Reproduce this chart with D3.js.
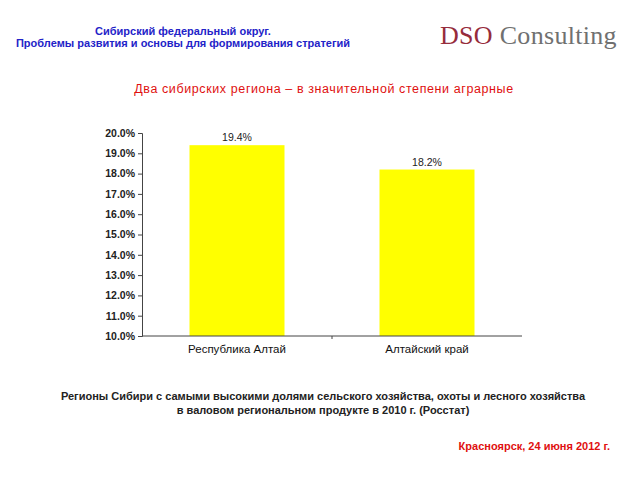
<!DOCTYPE html>
<html>
<head>
<meta charset="utf-8">
<script src="https://cdn.jsdelivr.net/npm/d3@7"></script>
<style>
  body { margin: 0; background: #fff; }
  svg { display: block; font-family: "Liberation Sans", Arial, sans-serif; }
</style>
</head>
<body>
<svg width="640" height="480"></svg>
<script>
var regions = ["Республика Алтай", "Алтайский край"];
var shares = [19.4, 18.2];
var yTicks = [10, 11, 12, 13, 14, 15, 16, 17, 18, 19, 20];

var svg = d3.select("svg");

// header
var head = svg.append("g").attr("fill", "#2323c8").attr("font-size", "11px").attr("font-weight", "bold").attr("text-anchor", "middle");
head.append("text").attr("x", 183).attr("y", 35).text("Сибирский федеральный округ.");
head.append("text").attr("x", 183).attr("y", 47).text("Проблемы развития и основы для формирования стратегий");

var logo = svg.append("text").attr("x", 440).attr("y", 44)
    .attr("font-family", "'Liberation Serif', 'DejaVu Serif', serif").attr("font-size", "26px")
    .attr("letter-spacing", "0.3px");
logo.append("tspan").attr("fill", "#962c3c").text("DSO ");
logo.append("tspan").attr("fill", "#707070").text("Consulting");

svg.append("text").attr("x", 324).attr("y", 93).attr("text-anchor", "middle")
    .attr("fill", "#e01010").attr("font-size", "12.5px").attr("letter-spacing", "0.6px")
    .text("Два сибирских региона – в значительной степени аграрные");

// chart
var x = d3.scaleBand().domain(regions).range([142, 522]).paddingInner(0.5).paddingOuter(0.25);
var y = d3.scaleLinear().domain([10, 20]).range([336, 133]);

var g = svg.append("g");

g.selectAll("rect.bar")
    .data(regions)
    .enter().append("rect")
    .attr("class", "bar")
    .attr("x", d => x(d))
    .attr("width", x.bandwidth())
    .attr("y", (d, i) => y(shares[i]))
    .attr("height", (d, i) => y(10) - y(shares[i]))
    .attr("fill", "#ffff00");

g.selectAll("text.val")
    .data(regions)
    .enter().append("text")
    .attr("class", "val")
    .attr("x", d => x(d) + x.bandwidth() / 2)
    .attr("y", (d, i) => y(shares[i]) - 4)
    .attr("text-anchor", "middle")
    .attr("font-size", "10.5px")
    .attr("fill", "#222")
    .text((d, i) => shares[i].toFixed(1) + "%");

var yAxis = g.append("g")
    .attr("transform", "translate(142,0)")
    .call(d3.axisLeft(y).tickValues(yTicks).tickSize(4).tickFormat(d => d.toFixed(1) + "%"));
yAxis.selectAll("text").attr("font-size", "10.5px").attr("font-weight", "bold").attr("fill", "#222")
    .attr("font-family", "'Liberation Sans', Arial, sans-serif");
yAxis.selectAll("line, path").attr("stroke", "#444");

var xAxis = g.append("g")
    .attr("transform", "translate(0,336)")
    .call(d3.axisBottom(x).tickSize(0).tickPadding(9));
xAxis.select(".domain").attr("stroke", "#444").attr("d", "M142,0H522");
xAxis.selectAll("text").attr("font-size", "11.5px").attr("fill", "#111")
    .attr("font-family", "'Liberation Sans', Arial, sans-serif");
// separator tick between categories
xAxis.append("line").attr("x1", 332).attr("x2", 332).attr("y1", 0).attr("y2", 3).attr("stroke", "#444");

// footer
var foot = svg.append("g").attr("fill", "#222").attr("font-size", "11px").attr("font-weight", "bold").attr("text-anchor", "middle");
foot.append("text").attr("x", 323).attr("y", 400).text("Регионы Сибири с самыми высокими долями сельского хозяйства, охоты и лесного хозяйства");
foot.append("text").attr("x", 323).attr("y", 414).text("в валовом региональном продукте в 2010 г.  (Росстат)");

svg.append("text").attr("x", 610).attr("y", 450).attr("text-anchor", "end")
    .attr("fill", "#e01010").attr("font-size", "11px").attr("font-weight", "bold")
    .text("Красноярск, 24 июня 2012 г.");
</script>
</body>
</html>
